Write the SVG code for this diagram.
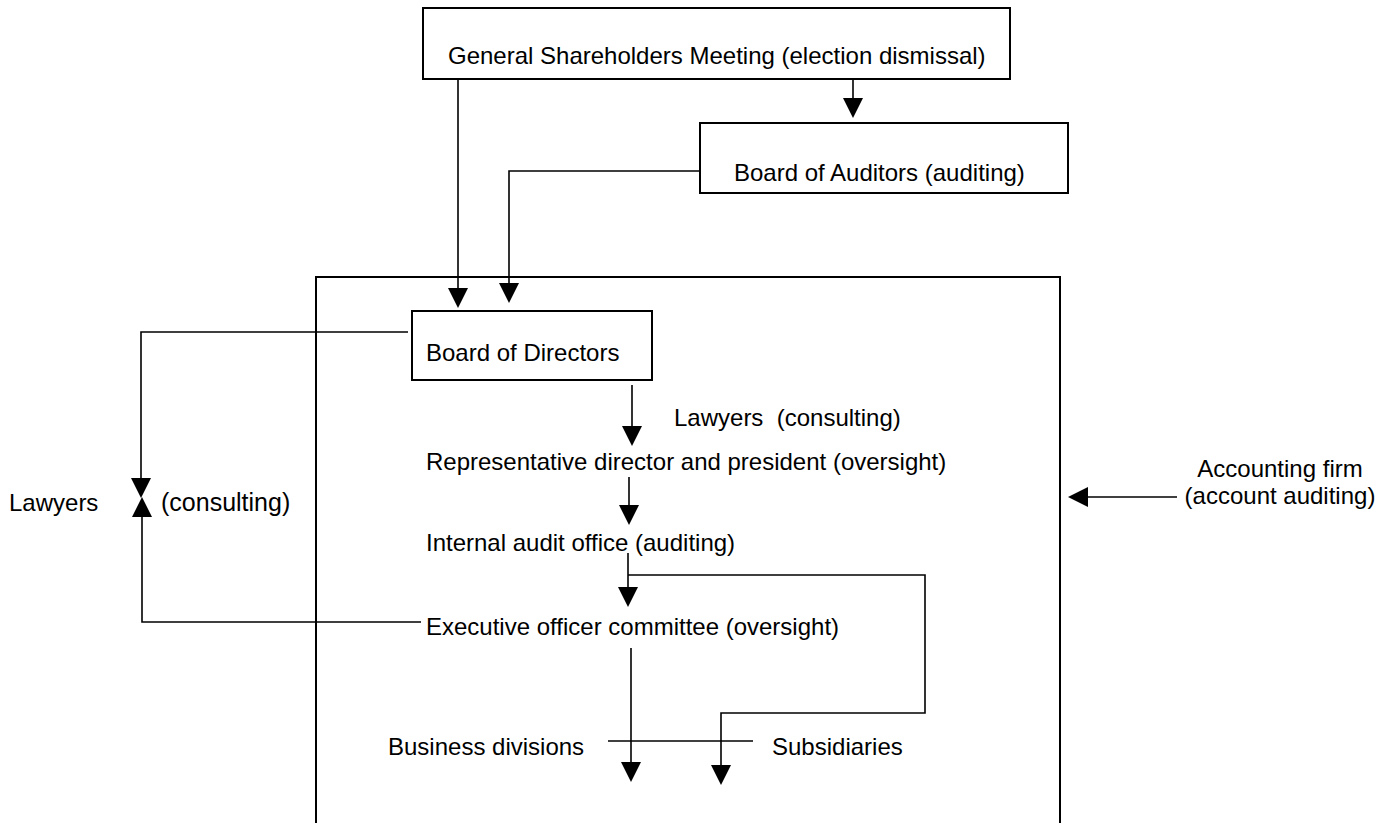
<svg xmlns="http://www.w3.org/2000/svg" width="1391" height="823" viewBox="0 0 1391 823">
<style>
.box{fill:#fff;stroke:#000;stroke-width:2}
.frame{fill:none;stroke:#000;stroke-width:2}
.ln{fill:none;stroke:#000;stroke-width:1.6}
.arr{marker-end:url(#ah)}
text{font-family:"Liberation Sans",Arial,sans-serif;font-size:24px;fill:#000;white-space:pre}
.big{font-size:25px}
</style>
<defs>
<marker id="ah" markerUnits="userSpaceOnUse" markerWidth="20" markerHeight="20" refX="0" refY="10" orient="auto" viewBox="0 0 20 20">
<path d="M0,0 L20,10 L0,20 z" fill="#000"/>
</marker>
</defs>
<rect id="frame" class="frame" x="316" y="277" width="744" height="570"/>
<g id="connectors">
<path class="ln arr" d="M853,80 V98"/>
<path class="ln arr" d="M458,79 V288"/>
<path class="ln arr" d="M700,171 H509 V283"/>
<path class="ln arr" d="M632,385 V426"/>
<path class="ln arr" d="M629,477 V505"/>
<path class="ln arr" d="M628,553 V587"/>
<path class="ln arr" d="M628,575 H925 V713 H721 V765"/>
<path class="ln arr" d="M631,648 V762"/>
<path class="ln arr" d="M408,332 H141 V478"/>
<path class="ln arr" d="M421,622 H142 V517"/>
<path class="ln arr" d="M1177,497 H1088"/>
<path class="ln" d="M608,741 H753"/>
</g>
<g id="gsm">
<rect class="box" x="423" y="8" width="587" height="71"/>
<text x="448" y="64">General Shareholders Meeting (election dismissal)</text>
</g>
<g id="boa">
<rect class="box" x="700" y="123" width="368" height="70"/>
<text x="734" y="181">Board of Auditors (auditing)</text>
</g>
<g id="bod">
<rect class="box" x="412" y="311" width="240" height="69"/>
<text x="426" y="361">Board of Directors</text>
</g>
<g id="lawyers-inner"><text x="674" y="426">Lawyers  (consulting)</text></g>
<g id="rep"><text x="426" y="470">Representative director and president (oversight)</text></g>
<g id="iao"><text x="426" y="551">Internal audit office (auditing)</text></g>
<g id="eoc"><text x="426" y="635">Executive officer committee (oversight)</text></g>
<g id="bd"><text x="388" y="755">Business divisions</text></g>
<g id="subs"><text x="772" y="755">Subsidiaries</text></g>
<g id="lawyers-outer">
<text x="9" y="511">Lawyers</text>
<text class="big" x="161" y="511">(consulting)</text>
</g>
<g id="accounting">
<text x="1280" y="477" text-anchor="middle">Accounting firm</text>
<text x="1280" y="504" text-anchor="middle">(account auditing)</text>
</g>
</svg>
